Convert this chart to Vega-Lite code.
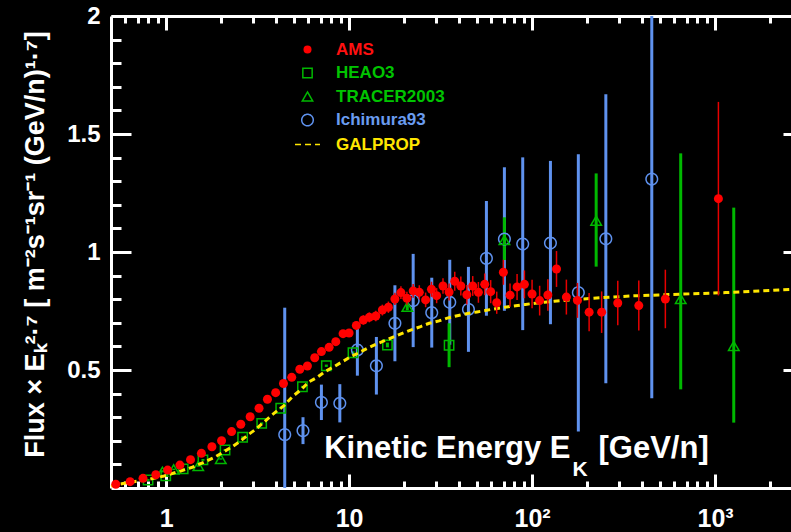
{
  "$schema": "https://vega.github.io/schema/vega-lite/v6.json",
  "width": 680,
  "height": 472,
  "autosize": {"type": "none"},
  "padding": {"left": 111, "top": 16, "right": 0, "bottom": 44},
  "background": "#000000",
  "datasets": {
    "ams": [
      {"series": "AMS", "E": 0.531, "flux": 0.016, "lo": 0.012, "hi": 0.02},
      {"series": "AMS", "E": 0.636, "flux": 0.027, "lo": 0.023, "hi": 0.031},
      {"series": "AMS", "E": 0.748, "flux": 0.041, "lo": 0.037, "hi": 0.045},
      {"series": "AMS", "E": 0.879, "flux": 0.056, "lo": 0.051, "hi": 0.061},
      {"series": "AMS", "E": 1.02, "flux": 0.076, "lo": 0.071, "hi": 0.081},
      {"series": "AMS", "E": 1.19, "flux": 0.097, "lo": 0.092, "hi": 0.102},
      {"series": "AMS", "E": 1.36, "flux": 0.12, "lo": 0.114, "hi": 0.126},
      {"series": "AMS", "E": 1.56, "flux": 0.147, "lo": 0.141, "hi": 0.153},
      {"series": "AMS", "E": 1.78, "flux": 0.175, "lo": 0.168, "hi": 0.182},
      {"series": "AMS", "E": 2.01, "flux": 0.2, "lo": 0.193, "hi": 0.207},
      {"series": "AMS", "E": 2.28, "flux": 0.239, "lo": 0.231, "hi": 0.247},
      {"series": "AMS", "E": 2.56, "flux": 0.27, "lo": 0.262, "hi": 0.278},
      {"series": "AMS", "E": 2.88, "flux": 0.302, "lo": 0.293, "hi": 0.311},
      {"series": "AMS", "E": 3.22, "flux": 0.338, "lo": 0.329, "hi": 0.347},
      {"series": "AMS", "E": 3.58, "flux": 0.376, "lo": 0.366, "hi": 0.386},
      {"series": "AMS", "E": 3.97, "flux": 0.404, "lo": 0.394, "hi": 0.414},
      {"series": "AMS", "E": 4.38, "flux": 0.443, "lo": 0.432, "hi": 0.454},
      {"series": "AMS", "E": 4.86, "flux": 0.469, "lo": 0.458, "hi": 0.48},
      {"series": "AMS", "E": 5.38, "flux": 0.503, "lo": 0.491, "hi": 0.515},
      {"series": "AMS", "E": 5.92, "flux": 0.517, "lo": 0.505, "hi": 0.529},
      {"series": "AMS", "E": 6.49, "flux": 0.552, "lo": 0.539, "hi": 0.565},
      {"series": "AMS", "E": 7.06, "flux": 0.578, "lo": 0.565, "hi": 0.591},
      {"series": "AMS", "E": 7.78, "flux": 0.596, "lo": 0.582, "hi": 0.61},
      {"series": "AMS", "E": 8.46, "flux": 0.62, "lo": 0.605, "hi": 0.635},
      {"series": "AMS", "E": 9.27, "flux": 0.654, "lo": 0.638, "hi": 0.67},
      {"series": "AMS", "E": 10.0, "flux": 0.657, "lo": 0.64, "hi": 0.674},
      {"series": "AMS", "E": 10.96, "flux": 0.689, "lo": 0.671, "hi": 0.707},
      {"series": "AMS", "E": 11.97, "flux": 0.712, "lo": 0.692, "hi": 0.732},
      {"series": "AMS", "E": 12.9, "flux": 0.723, "lo": 0.702, "hi": 0.744},
      {"series": "AMS", "E": 14.0, "flux": 0.729, "lo": 0.707, "hi": 0.751},
      {"series": "AMS", "E": 15.2, "flux": 0.754, "lo": 0.731, "hi": 0.777},
      {"series": "AMS", "E": 16.4, "flux": 0.766, "lo": 0.742, "hi": 0.79},
      {"series": "AMS", "E": 17.8, "flux": 0.801, "lo": 0.775, "hi": 0.827},
      {"series": "AMS", "E": 19.2, "flux": 0.828, "lo": 0.801, "hi": 0.855},
      {"series": "AMS", "E": 20.7, "flux": 0.804, "lo": 0.776, "hi": 0.832},
      {"series": "AMS", "E": 22.4, "flux": 0.835, "lo": 0.806, "hi": 0.864},
      {"series": "AMS", "E": 24.2, "flux": 0.829, "lo": 0.799, "hi": 0.859},
      {"series": "AMS", "E": 26.2, "flux": 0.797, "lo": 0.766, "hi": 0.828},
      {"series": "AMS", "E": 28.2, "flux": 0.842, "lo": 0.81, "hi": 0.874},
      {"series": "AMS", "E": 30.1, "flux": 0.815, "lo": 0.783, "hi": 0.847},
      {"series": "AMS", "E": 32.6, "flux": 0.856, "lo": 0.823, "hi": 0.889},
      {"series": "AMS", "E": 35.2, "flux": 0.83, "lo": 0.794, "hi": 0.866},
      {"series": "AMS", "E": 37.8, "flux": 0.876, "lo": 0.836, "hi": 0.916},
      {"series": "AMS", "E": 40.8, "flux": 0.856, "lo": 0.816, "hi": 0.896},
      {"series": "AMS", "E": 44, "flux": 0.819, "lo": 0.778, "hi": 0.86},
      {"series": "AMS", "E": 47.4, "flux": 0.856, "lo": 0.814, "hi": 0.898},
      {"series": "AMS", "E": 50.9, "flux": 0.829, "lo": 0.785, "hi": 0.873},
      {"series": "AMS", "E": 55.1, "flux": 0.863, "lo": 0.817, "hi": 0.909},
      {"series": "AMS", "E": 59.4, "flux": 0.832, "lo": 0.783, "hi": 0.881},
      {"series": "AMS", "E": 64.1, "flux": 0.785, "lo": 0.738, "hi": 0.832},
      {"series": "AMS", "E": 69.7, "flux": 0.914, "lo": 0.861, "hi": 0.967},
      {"series": "AMS", "E": 75.8, "flux": 0.817, "lo": 0.768, "hi": 0.866},
      {"series": "AMS", "E": 82.8, "flux": 0.852, "lo": 0.797, "hi": 0.907},
      {"series": "AMS", "E": 90.8, "flux": 0.863, "lo": 0.804, "hi": 0.922},
      {"series": "AMS", "E": 100, "flux": 0.822, "lo": 0.762, "hi": 0.882},
      {"series": "AMS", "E": 110, "flux": 0.794, "lo": 0.731, "hi": 0.857},
      {"series": "AMS", "E": 122, "flux": 0.818, "lo": 0.751, "hi": 0.885},
      {"series": "AMS", "E": 136, "flux": 0.928, "lo": 0.852, "hi": 1.004},
      {"series": "AMS", "E": 154, "flux": 0.809, "lo": 0.735, "hi": 0.883},
      {"series": "AMS", "E": 177, "flux": 0.795, "lo": 0.721, "hi": 0.869},
      {"series": "AMS", "E": 205, "flux": 0.745, "lo": 0.664, "hi": 0.826},
      {"series": "AMS", "E": 240, "flux": 0.745, "lo": 0.657, "hi": 0.833},
      {"series": "AMS", "E": 294, "flux": 0.784, "lo": 0.69, "hi": 0.878},
      {"series": "AMS", "E": 383, "flux": 0.773, "lo": 0.667, "hi": 0.879},
      {"series": "AMS", "E": 535, "flux": 0.801, "lo": 0.677, "hi": 0.925},
      {"series": "AMS", "E": 1043, "flux": 1.226, "lo": 0.816, "hi": 1.636}
    ],
    "other": [
      {"series": "Ichimura93", "E": 4.45, "flux": 0.226, "lo": -0.31, "hi": 0.764},
      {"series": "Ichimura93", "E": 5.6, "flux": 0.243, "lo": 0.186, "hi": 0.3},
      {"series": "Ichimura93", "E": 7.06, "flux": 0.363, "lo": 0.288, "hi": 0.438},
      {"series": "Ichimura93", "E": 8.9, "flux": 0.359, "lo": 0.278, "hi": 0.44},
      {"series": "Ichimura93", "E": 11.1, "flux": 0.585, "lo": 0.476, "hi": 0.694},
      {"series": "Ichimura93", "E": 14.1, "flux": 0.518, "lo": 0.396, "hi": 0.64},
      {"series": "Ichimura93", "E": 17.8, "flux": 0.698, "lo": 0.537, "hi": 0.859},
      {"series": "Ichimura93", "E": 22.4, "flux": 0.794, "lo": 0.597, "hi": 0.992},
      {"series": "Ichimura93", "E": 28.3, "flux": 0.743, "lo": 0.595, "hi": 0.891},
      {"series": "Ichimura93", "E": 35.5, "flux": 0.787, "lo": 0.607, "hi": 0.967},
      {"series": "Ichimura93", "E": 44.9, "flux": 0.757, "lo": 0.577, "hi": 0.937},
      {"series": "Ichimura93", "E": 56.3, "flux": 0.973, "lo": 0.73, "hi": 1.216},
      {"series": "Ichimura93", "E": 70.6, "flux": 1.055, "lo": 0.751, "hi": 1.359},
      {"series": "Ichimura93", "E": 88.9, "flux": 1.034, "lo": 0.669, "hi": 1.401},
      {"series": "Ichimura93", "E": 126, "flux": 1.038, "lo": 0.694, "hi": 1.386},
      {"series": "Ichimura93", "E": 179, "flux": 0.828, "lo": 0.239, "hi": 1.414},
      {"series": "Ichimura93", "E": 253, "flux": 1.056, "lo": 0.444, "hi": 1.668},
      {"series": "Ichimura93", "E": 451, "flux": 1.309, "lo": 0.38, "hi": 2.2},
      {"series": "HEAO3", "E": 0.797, "flux": 0.034, "lo": 0.03, "hi": 0.038},
      {"series": "HEAO3", "E": 0.996, "flux": 0.052, "lo": 0.048, "hi": 0.056},
      {"series": "HEAO3", "E": 1.24, "flux": 0.081, "lo": 0.077, "hi": 0.085},
      {"series": "HEAO3", "E": 1.59, "flux": 0.119, "lo": 0.115, "hi": 0.123},
      {"series": "HEAO3", "E": 2.1, "flux": 0.161, "lo": 0.157, "hi": 0.165},
      {"series": "HEAO3", "E": 2.62, "flux": 0.215, "lo": 0.211, "hi": 0.219},
      {"series": "HEAO3", "E": 3.33, "flux": 0.274, "lo": 0.27, "hi": 0.278},
      {"series": "HEAO3", "E": 4.23, "flux": 0.338, "lo": 0.334, "hi": 0.342},
      {"series": "HEAO3", "E": 5.56, "flux": 0.429, "lo": 0.425, "hi": 0.433},
      {"series": "HEAO3", "E": 7.51, "flux": 0.518, "lo": 0.513, "hi": 0.523},
      {"series": "HEAO3", "E": 10.5, "flux": 0.573, "lo": 0.567, "hi": 0.579},
      {"series": "HEAO3", "E": 16.2, "flux": 0.606, "lo": 0.596, "hi": 0.616},
      {"series": "HEAO3", "E": 35.2, "flux": 0.605, "lo": 0.512, "hi": 0.698},
      {"series": "TRACER2003", "E": 0.955, "flux": 0.069, "lo": 0.066, "hi": 0.072},
      {"series": "TRACER2003", "E": 1.1, "flux": 0.079, "lo": 0.076, "hi": 0.082},
      {"series": "TRACER2003", "E": 1.5, "flux": 0.093, "lo": 0.09, "hi": 0.096},
      {"series": "TRACER2003", "E": 1.99, "flux": 0.123, "lo": 0.12, "hi": 0.126},
      {"series": "TRACER2003", "E": 20.8, "flux": 0.768, "lo": 0.753, "hi": 0.783},
      {"series": "TRACER2003", "E": 70.6, "flux": 1.051, "lo": 0.966, "hi": 1.147},
      {"series": "TRACER2003", "E": 224, "flux": 1.133, "lo": 0.938, "hi": 1.333},
      {"series": "TRACER2003", "E": 649, "flux": 0.801, "lo": 0.418, "hi": 1.418},
      {"series": "TRACER2003", "E": 1265, "flux": 0.602, "lo": 0.277, "hi": 1.188}
    ],
    "galprop": [
      {"E": 0.5, "flux": 0.008}, {"E": 0.59, "flux": 0.02}, {"E": 0.81, "flux": 0.037},
      {"E": 0.975, "flux": 0.051}, {"E": 1.2, "flux": 0.072}, {"E": 1.39, "flux": 0.088},
      {"E": 1.65, "flux": 0.113}, {"E": 1.87, "flux": 0.133}, {"E": 2.07, "flux": 0.154},
      {"E": 2.3, "flux": 0.175}, {"E": 2.56, "flux": 0.2}, {"E": 2.8, "flux": 0.225},
      {"E": 3.09, "flux": 0.249}, {"E": 3.4, "flux": 0.277}, {"E": 3.73, "flux": 0.305},
      {"E": 4.09, "flux": 0.33}, {"E": 4.41, "flux": 0.349}, {"E": 4.9, "flux": 0.387},
      {"E": 5.49, "flux": 0.418}, {"E": 6.04, "flux": 0.45}, {"E": 6.7, "flux": 0.469},
      {"E": 7.38, "flux": 0.493}, {"E": 8.27, "flux": 0.514}, {"E": 9.18, "flux": 0.535},
      {"E": 10.2, "flux": 0.556}, {"E": 11.3, "flux": 0.573}, {"E": 12.6, "flux": 0.592},
      {"E": 14, "flux": 0.609}, {"E": 15.5, "flux": 0.623}, {"E": 17.4, "flux": 0.639},
      {"E": 19.5, "flux": 0.655}, {"E": 21.7, "flux": 0.669}, {"E": 24.6, "flux": 0.684},
      {"E": 27.4, "flux": 0.698}, {"E": 31, "flux": 0.708}, {"E": 34.4, "flux": 0.72},
      {"E": 39, "flux": 0.73}, {"E": 44.3, "flux": 0.739}, {"E": 50, "flux": 0.746},
      {"E": 56.3, "flux": 0.753}, {"E": 64.5, "flux": 0.761}, {"E": 72.4, "flux": 0.767},
      {"E": 81.5, "flux": 0.772}, {"E": 92, "flux": 0.778}, {"E": 104, "flux": 0.783},
      {"E": 117, "flux": 0.787}, {"E": 132, "flux": 0.791}, {"E": 188, "flux": 0.801},
      {"E": 273, "flux": 0.809}, {"E": 352, "flux": 0.814}, {"E": 492, "flux": 0.818},
      {"E": 751, "flux": 0.823}, {"E": 1146, "flux": 0.828}, {"E": 1750, "flux": 0.835},
      {"E": 2600, "flux": 0.842}
    ]
  },
  "layer": [
    {
      "data": {"name": "other"},
      "mark": {"type": "rule", "clip": true, "strokeWidth": 3},
      "encoding": {
        "x": {"field": "E", "type": "quantitative", "scale": {"type": "log", "domain": [0.5, 2600], "nice": false},
          "axis": {"orient": "bottom", "values": [1, 10, 100, 1000], "tickSize": -14, "labelPadding": 32, "labelFontSize": 25,
            "labelExpr": "datum.value == 1 ? '1' : datum.value == 10 ? '10' : datum.value == 100 ? '10²' : '10³'",
            "title": "Kinetic Energy E", "titleX": 459, "titleY": -31, "titleAlign": "right", "titleBaseline": "alphabetic", "titleFontSize": 31}},
        "y": {"field": "lo", "type": "quantitative", "scale": {"domain": [0, 2], "nice": false, "zero": false},
          "axis": {"orient": "left", "values": [0.5, 1, 1.5, 2], "tickSize": -20, "labelPadding": 31, "labelFontSize": 24, "format": "~g", "labelBaseline": "middle",
            "title": "Flux × Eₖ²·⁷ [ m⁻²s⁻¹sr⁻¹ (GeV/n)¹·⁷]", "titleX": -76, "titleY": 228, "titleAngle": 270, "titleAlign": "center", "titleBaseline": "middle", "titleFontSize": 27}},
        "y2": {"field": "hi"},
        "color": {"field": "series", "type": "nominal", "legend": null,
          "scale": {"domain": ["HEAO3", "TRACER2003", "Ichimura93"], "range": ["#00b800", "#00b800", "#5f92ef"]}}
      }
    },
    {
      "data": {"name": "other"},
      "mark": {"type": "point", "opacity": 1},
      "encoding": {
        "x": {"field": "E", "type": "quantitative", "scale": {"type": "log", "domain": [0.5, 2600], "nice": false},
          "axis": {"orient": "bottom", "values": [0.6, 0.7, 0.8, 0.9, 2, 3, 4, 5, 6, 7, 8, 9, 20, 30, 40, 50, 60, 70, 80, 90, 200, 300, 400, 500, 600, 700, 800, 900, 2000],
            "tickSize": -7, "labels": false, "domain": false,
            "title": "K", "titleX": 461, "titleY": -13, "titleAlign": "left", "titleBaseline": "alphabetic", "titleFontSize": 21}},
        "y": {"field": "flux", "type": "quantitative", "scale": {"domain": [0, 2], "nice": false, "zero": false},
          "axis": {"orient": "left", "values": [0.1, 0.2, 0.3, 0.4, 0.6, 0.7, 0.8, 0.9, 1.1, 1.2, 1.3, 1.4, 1.6, 1.7, 1.8, 1.9],
            "tickSize": -10, "labels": false, "domain": false, "title": null}},
        "fill": {"field": "series", "type": "nominal",
          "scale": {"domain": ["AMS", "HEAO3", "TRACER2003", "Ichimura93", "GALPROP"], "range": ["#ff0000", "transparent", "transparent", "transparent", "transparent"]}},
        "stroke": {"field": "series", "type": "nominal",
          "scale": {"domain": ["AMS", "HEAO3", "TRACER2003", "Ichimura93", "GALPROP"], "range": ["transparent", "#00b800", "#00b800", "#5f92ef", "#ffe600"]}},
        "strokeWidth": {"field": "series", "type": "nominal",
          "scale": {"domain": ["AMS", "HEAO3", "TRACER2003", "Ichimura93", "GALPROP"], "range": [1.5, 1.5, 1.5, 1.5, 3]}},
        "strokeDash": {"field": "series", "type": "nominal",
          "scale": {"domain": ["AMS", "HEAO3", "TRACER2003", "Ichimura93", "GALPROP"], "range": [[1, 0], [1, 0], [1, 0], [1, 0], [6, 4]]}},
        "size": {"field": "series", "type": "nominal",
          "scale": {"domain": ["AMS", "HEAO3", "TRACER2003", "Ichimura93", "GALPROP"], "range": [64, 156, 160, 140, 1600]}},
        "shape": {"field": "series", "type": "nominal",
          "scale": {"domain": ["AMS", "HEAO3", "TRACER2003", "Ichimura93", "GALPROP"], "range": ["circle", "square", "triangle-up", "circle", "M-2,0H2"]},
          "legend": {
            "orient": "none", "legendX": 188, "legendY": 25, "title": null, "padding": 0,
            "labelOffset": 20, "rowPadding": 5.5,
            "labelFont": "Liberation Sans", "labelFontSize": 17, "labelFontWeight": "bold",
            "labelColor": {"expr": "datum.value === 'AMS' ? '#ff1010' : datum.value === 'Ichimura93' ? '#6a9cf0' : datum.value === 'GALPROP' ? '#ffe600' : '#00c400'"}
          }}
      }
    },
    {
      "data": {"name": "galprop"},
      "mark": {"type": "line", "color": "#ffe600", "strokeWidth": 3, "strokeDash": [6, 4]},
      "encoding": {
        "x": {"field": "E", "type": "quantitative", "scale": {"type": "log", "domain": [0.5, 2600], "nice": false},
          "axis": {"orient": "top", "values": [1, 10, 100, 1000], "tickSize": -14, "labels": false, "domain": true,
            "title": "[GeV/n]", "titleX": 487, "titleY": 441, "titleAlign": "left", "titleBaseline": "alphabetic", "titleFontSize": 31}},
        "y": {"field": "flux", "type": "quantitative", "scale": {"domain": [0, 2], "nice": false, "zero": false},
          "axis": {"orient": "right", "values": [0.5, 1, 1.5], "tickSize": -8, "labels": false, "domain": false, "title": null}}
      }
    },
    {
      "data": {"name": "ams"},
      "mark": {"type": "rule", "clip": true, "strokeWidth": 1.5, "color": "#e80000"},
      "encoding": {
        "x": {"field": "E", "type": "quantitative", "scale": {"type": "log", "domain": [0.5, 2600], "nice": false},
          "axis": {"orient": "top", "values": [0.6, 0.7, 0.8, 0.9, 2, 3, 4, 5, 6, 7, 8, 9, 20, 30, 40, 50, 60, 70, 80, 90, 200, 300, 400, 500, 600, 700, 800, 900, 2000],
            "tickSize": -7, "labels": false, "domain": false, "title": null}},
        "y": {"field": "lo", "type": "quantitative", "scale": {"domain": [0, 2], "nice": false, "zero": false}, "axis": null},
        "y2": {"field": "hi"}
      }
    },
    {
      "data": {"name": "ams"},
      "mark": {"type": "point", "filled": true, "opacity": 1, "size": 81, "strokeWidth": 0},
      "encoding": {
        "x": {"field": "E", "type": "quantitative", "scale": {"type": "log", "domain": [0.5, 2600], "nice": false}, "axis": null},
        "y": {"field": "flux", "type": "quantitative", "scale": {"domain": [0, 2], "nice": false, "zero": false}, "axis": null},
        "fill": {"field": "series", "type": "nominal"},
        "shape": {"field": "series", "type": "nominal"}
      }
    }
  ],
  "resolve": {"axis": {"x": "independent", "y": "independent"}},
  "config": {
    "view": {"stroke": null},
    "axis": {
      "grid": false,
      "domainColor": "#ffffff", "domainWidth": 3,
      "tickColor": "#ffffff", "tickWidth": 3,
      "labelColor": "#ffffff", "labelFont": "Liberation Sans", "labelFontWeight": "bold",
      "labelFlush": false, "labelOverlap": false,
      "titleColor": "#ffffff", "titleFont": "Liberation Sans", "titleFontWeight": "bold"
    }
  }
}
